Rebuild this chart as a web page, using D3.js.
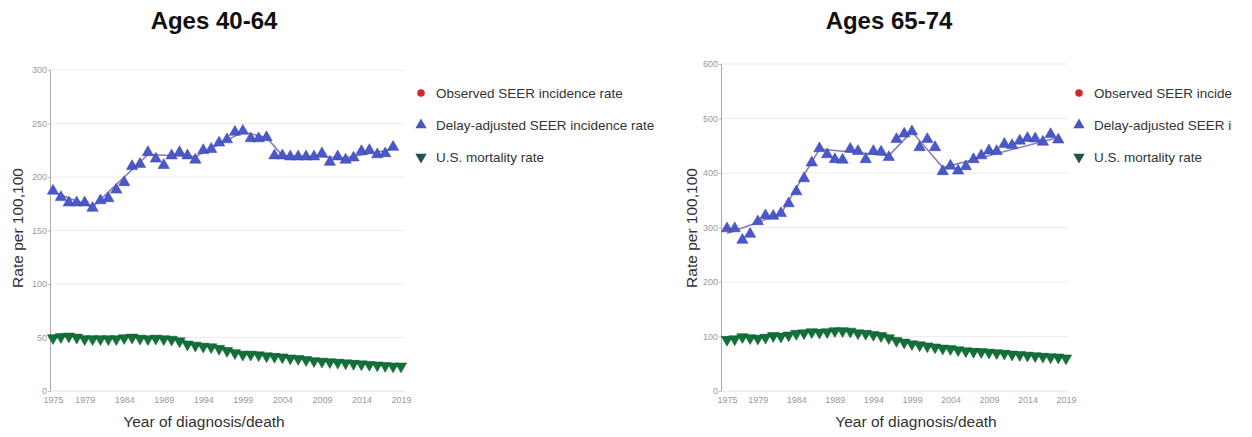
<!DOCTYPE html>
<html lang="en">
<head>
  <title>SEER rates by age</title>
  <meta charset="UTF-8">
  <style>
    body { margin: 0; background: #fff; font-family: Arial, "Liberation Sans", sans-serif; }
  </style>
  <script src="https://cdn.jsdelivr.net/npm/d3@7"></script>
</head>
<body>
<script>
  // years 1975..2019
  var years = d3.range(1975, 2020);
  var tickYears = [1975, 1979, 1984, 1989, 1994, 1999, 2004, 2009, 2014, 2019];
  var legendLabels = ["Observed SEER incidence rate", "Delay-adjusted SEER incidence rate", "U.S. mortality rate"];

  // Ages 40-64 (incidence 1975-2018, mortality 1975-2019)
  var inc4064 = [187, 181, 176, 176, 176, 171, 178, 180, 188, 195, 210, 212, 223, 217, 211, 220, 223, 220, 216, 225,
                 226, 232, 235, 242, 243, 236, 236, 237, 220, 220, 219, 219, 219, 219, 222, 214, 219, 216, 218, 224,
                 225, 221, 222, 228];
  var mort4064 = [51, 52, 52.5, 51.5, 50, 50, 50, 50, 50, 51, 51.5, 50.5, 50, 50.5, 50, 49.5, 48, 45, 44, 43,
                  42.5, 41, 39, 37, 35.5, 35.5, 35, 34, 33.5, 33, 32, 31.5, 30.5, 29.5, 29, 28.5, 28, 27.5, 27, 26.5,
                  26, 25.5, 25, 24.5, 24.5];
  var trendYears4064 = [1975, 1980, 1987, 1993, 1999, 2002, 2004, 2012, 2018];
  var trendVals4064 = [186, 172, 221, 219, 242, 237, 220, 218, 226];

  // Ages 65-74
  var inc6574 = [298, 298, 277, 288, 311, 322, 321, 326, 344, 366, 390, 419, 445, 434, 425, 424, 444, 440, 425, 440,
                 439, 429, 462, 472, 476, 447, 462, 447, 403, 413, 404, 412, 425, 432, 441, 440, 453, 451, 459, 464,
                 463, 457, 471, 461];
  var mort6574 = [97, 98, 102, 100, 99, 101, 104, 103, 105, 108, 109, 111, 110, 111, 113, 113, 112, 109, 108, 106,
                  104, 100, 95, 92, 89, 87, 85, 83, 81, 80, 78, 76, 75, 74.5, 73.5, 72.5, 71.5, 70, 69, 68,
                  67, 66, 65, 64.5, 63];
  var trendYears6574 = [1975, 1982, 1987, 1996, 1999, 2003, 2018];
  var trendVals6574 = [289, 325, 444, 432, 476, 410, 465];

  // the reference is cut at the right edge, so the svg stops there too
  var svg = d3.select("body").append("svg").attr("width", 1232).attr("height", 437);

  drawChart(svg, {
    title: "Ages 40-64", titleX: 214,
    left: 50, right: 405, x0: 53, x1: 401, top: 70, bottom: 391, yMax: 300, yTicks: d3.range(0, 301, 50),
    inc: inc4064, mort: mort4064, trendYears: trendYears4064, trendVals: trendVals4064,
    yLabelX: 18, xLabelX: 204, legendX: 421
  });
  drawChart(svg, {
    title: "Ages 65-74", titleX: 889,
    left: 721, right: 1068, x0: 727, x1: 1066, top: 64, bottom: 391, yMax: 600, yTicks: d3.range(0, 601, 100),
    inc: inc6574, mort: mort6574, trendYears: trendYears6574, trendVals: trendVals6574,
    yLabelX: 692, xLabelX: 916, legendX: 1079
  });

  function drawChart(svg, o) {
    var g = svg.append("g");
    var x = d3.scaleLinear().domain([1975, 2019]).range([o.x0, o.x1]);
    var y = d3.scaleLinear().domain([0, o.yMax]).range([o.bottom, o.top]);

    // title
    g.append("text").attr("x", o.titleX).attr("y", 29).attr("text-anchor", "middle")
      .style("font-size", "24px").style("font-weight", "bold").attr("fill", "#111").text(o.title);

    // grid
    g.selectAll(".grid").data(o.yTicks.slice(1)).enter().append("line")
      .attr("x1", o.left).attr("x2", o.right)
      .attr("y1", function(d) { return y(d); }).attr("y2", function(d) { return y(d); })
      .attr("stroke", "#ececec");

    // y axis
    var ya = g.append("g").attr("transform", "translate(" + o.left + ",0)")
      .call(d3.axisLeft(y).tickValues(o.yTicks).tickSize(2).tickPadding(1));
    ya.select(".domain").attr("stroke", "#a8a8a8");
    ya.selectAll(".tick line").attr("stroke", "#bbb");
    ya.selectAll("text").attr("fill", "#999").style("font-size", "9px").style("font-family", "Arial");

    // x axis
    var xa = g.append("g").attr("transform", "translate(0," + o.bottom + ")")
      .call(d3.axisBottom(x).tickValues(tickYears).tickFormat(d3.format("d")).tickSize(0).tickPadding(6));
    xa.select(".domain").attr("stroke", "#e4e4e4").attr("d", "M" + o.left + ",0H" + o.right);
    xa.selectAll("text").attr("fill", "#999").style("font-size", "9px").style("font-family", "Arial");

    // axis titles
    g.append("text").attr("transform", "translate(" + o.yLabelX + "," + 228 + ")rotate(-90)")
      .attr("text-anchor", "middle").attr("dy", "0.35em").style("font-size", "15.5px").attr("fill", "#333")
      .text("Rate per 100,100");
    g.append("text").attr("x", o.xLabelX).attr("y", 427).attr("text-anchor", "middle")
      .style("font-size", "15.5px").attr("fill", "#333").text("Year of diagnosis/death");

    var tri = d3.symbol().type(d3.symbolTriangle).size(56);

    // mortality line + markers
    var mortData = o.mort.map(function(v, i) { return [years[i], v]; });
    g.append("path").datum(mortData)
      .attr("d", d3.line().x(function(d) { return x(d[0]); }).y(function(d) { return y(d[1]); }))
      .attr("fill", "none").attr("stroke", "#178a40").attr("stroke-width", 3);
    g.selectAll(".mort").data(mortData).enter().append("path")
      .attr("d", tri)
      .attr("transform", function(d) { return "translate(" + x(d[0]) + "," + (y(d[1]) + 1.5) + ")rotate(180)"; })
      .attr("fill", "#13703a").attr("stroke", "#0f5a2e").attr("stroke-width", 0.5);

    // incidence trend
    var trend = o.trendYears.map(function(yr, i) { return [yr, o.trendVals[i]]; });
    g.append("path").datum(trend)
      .attr("d", d3.line().x(function(d) { return x(d[0]); }).y(function(d) { return y(d[1]); }))
      .attr("fill", "none").attr("stroke", "#8a7cba").attr("stroke-width", 1.6);

    var incData = o.inc.map(function(v, i) { return [years[i], v]; });
    g.selectAll(".inc").data(incData).enter().append("path")
      .attr("d", tri)
      .attr("transform", function(d) { return "translate(" + x(d[0]) + "," + y(d[1]) + ")"; })
      .attr("fill", "#4a58cc").attr("stroke", "#3440a0").attr("stroke-width", 0.5);

    // legend
    var lg = g.append("g").attr("transform", "translate(" + o.legendX + ",93)");
    var rows = lg.selectAll("g").data(legendLabels).enter().append("g")
      .attr("transform", function(d, i) { return "translate(0," + (i * 32) + ")"; });
    rows.append("path")
      .attr("d", function(d, i) { return i === 0 ? d3.symbol().type(d3.symbolCircle).size(44)() : tri(); })
      .attr("transform", function(d, i) { return i === 2 ? "rotate(180)" : null; })
      .attr("fill", function(d, i) { return ["#d7232e", "#4a58b8", "#244f4c"][i]; });
    rows.append("text").attr("x", 15).attr("dy", "0.35em")
      .style("font-size", "13.5px").attr("fill", "#333").text(function(d) { return d; });
  }
</script>
</body>
</html>
